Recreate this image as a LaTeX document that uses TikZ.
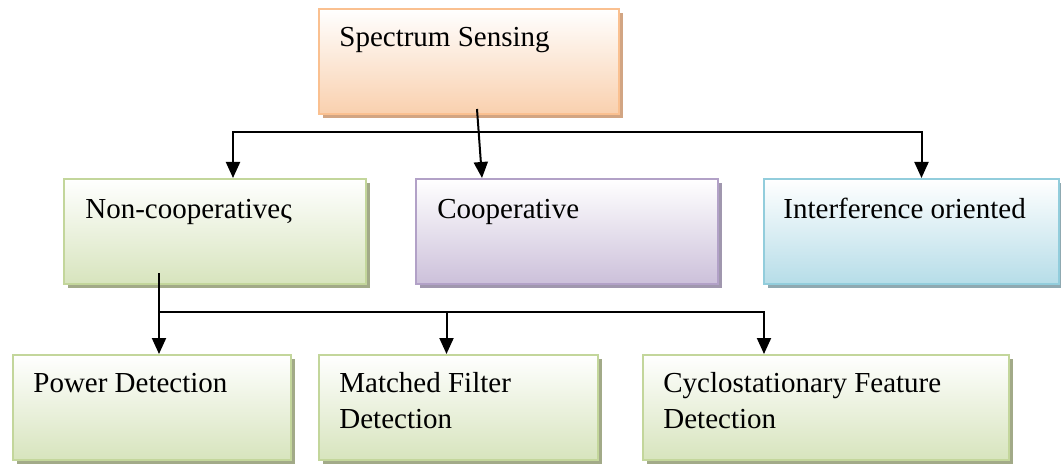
\documentclass[tikz,border=0pt]{standalone}
\usepackage{fontspec}
\setmainfont{Liberation Serif}
\usetikzlibrary{positioning,shadows,arrows.meta}

\definecolor{peachline}{HTML}{FAC090}
\definecolor{peachfill}{HTML}{F9D0AE}
\definecolor{peachshade}{HTML}{D2A583}
\definecolor{greenline}{HTML}{C3D69B}
\definecolor{greenfill}{HTML}{D7E4BD}
\definecolor{greenshade}{HTML}{A2AA88}
\definecolor{purpleline}{HTML}{B2A1C7}
\definecolor{purplefill}{HTML}{CCC0DA}
\definecolor{purpleshade}{HTML}{A097AE}
\definecolor{blueline}{HTML}{92CDDC}
\definecolor{bluefill}{HTML}{B6DDE8}
\definecolor{blueshade}{HTML}{8FA9B1}

\begin{document}
\begin{tikzpicture}[
  x=0.5pt, y=-0.5pt,
  box/.style={rectangle,anchor=north west,line width=1pt,inner sep=0pt,
    minimum height=52.5pt},
  peachbox/.style={box,draw=peachline,top color=white,bottom color=peachfill,
    general shadow={fill=peachshade,shadow xshift=2pt,shadow yshift=-2pt}},
  greenbox/.style={box,draw=greenline,top color=white,bottom color=greenfill,
    general shadow={fill=greenshade,shadow xshift=2pt,shadow yshift=-2pt}},
  purplebox/.style={box,draw=purpleline,top color=white,bottom color=purplefill,
    general shadow={fill=purpleshade,shadow xshift=2pt,shadow yshift=-2pt}},
  bluebox/.style={box,draw=blueline,top color=white,bottom color=bluefill,
    general shadow={fill=blueshade,shadow xshift=2pt,shadow yshift=-2pt}},
  label/.style={anchor=base west,inner sep=0pt,align=left,
    font=\fontsize{14.5}{18}\selectfont},
  arr/.style={line width=1pt,-{Triangle[length=8pt,width=7pt]}},
  link/.style={line width=1pt}
]
  \useasboundingbox (0,0) rectangle (1061,465);

  % top level
  \node[peachbox,minimum width=150pt] (spec) at (318,8) {};
  \node[label] (spec-t) at (339,47) {Spectrum Sensing};

  % second level
  \node[greenbox,minimum width=151pt] (noncoop) at (63,178) {};
  \node[label] (noncoop-t) at (85,219) {Non-cooperativeς};
  \node[purplebox,minimum width=151pt] (coop) at (415,178) {};
  \node[label] (coop-t) at (437,219) {Cooperative};
  \node[bluebox,minimum width=147.5pt] (interf) at (763,178) {};
  \node[label] (interf-t) at (783,219) {Interference oriented};

  % third level (base of a two-line label is its last line)
  \node[greenbox,minimum width=139pt] (power) at (12,354) {};
  \node[label] (power-t) at (33,392) {Power Detection};
  \node[greenbox,minimum width=139.5pt] (matched) at (318,354) {};
  \node[label] (matched-t) at (339,428) {Matched Filter\\Detection};
  \node[greenbox,minimum width=183pt] (cyclo) at (642,354) {};
  \node[label] (cyclo-t) at (663,428) {Cyclostationary Feature\\Detection};

  % connectors
  \coordinate (bus1) at (476,132);
  \draw[arr] (bus1) -| ([xshift=9pt]noncoop.north);
  \draw[arr] (bus1) -| ([xshift=5pt]interf.north);
  \draw[arr] ([xshift=4pt,yshift=3pt]spec.south) -- ([xshift=-42.5pt]coop.north);

  \coordinate (bus2) at (158,312);
  \draw[arr] ([xshift=-28pt,yshift=6pt]noncoop.south) -- ([xshift=3.5pt]power.north);
  \draw[arr] (bus2) -| ([xshift=-6pt]matched.north);
  \draw[arr] (bus2) -| ([xshift=-31pt]cyclo.north);
\end{tikzpicture}
\end{document}
